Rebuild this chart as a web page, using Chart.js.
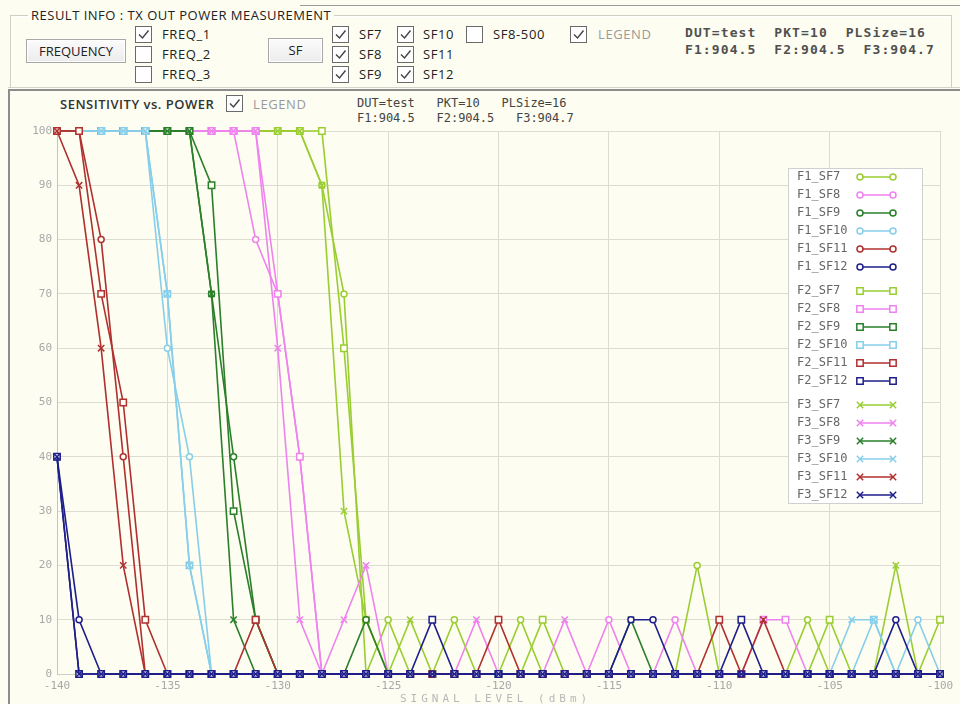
<!DOCTYPE html>
<html>
<head>
<meta charset="utf-8">
<script src="https://cdn.jsdelivr.net/npm/chart.js@4.4.0/dist/chart.umd.min.js"></script>
<style>
  html, body { margin: 0; padding: 0; }
  body { width: 960px; height: 704px; overflow: hidden; position: relative; background: #fdfdf1;
         font-family: "Open Sans", "DejaVu Sans", sans-serif; color: #222; }
  .topline { position: absolute; left: 300px; top: 5px; width: 660px; height: 0; border-top: 1px solid #9a9a9a; }
  .grp { position: absolute; left: 10px; top: 15px; width: 940px; height: 71px; border: 1px solid #cfcfc6; box-shadow: inset 1px 1px 0 #fff; }
  .grp-title { position: absolute; left: 28px; top: 6px; padding: 0 3px; background: #fdfdf1; font-size: 13px; line-height: 18px; color: #222; letter-spacing: 0.5px; }
  .btn { position: absolute; box-sizing: border-box; border: 1px solid #a8a8a8; background: linear-gradient(#fbfbfb, #ececec);
         font-size: 13px; text-align: center; color: #222; box-shadow: inset 0 0 0 1px #fff; }
  .cb { position: absolute; width: 17px; height: 17px; box-sizing: border-box; border: 1px solid #6a6a6a; background: #fff; }
  .cb svg { position: absolute; left: 0; top: 0; }
  .lbl { position: absolute; font-size: 13px; line-height: 16px; color: #222; white-space: pre; letter-spacing: 0.6px; }
  .grey { color: #9a9a9a; }
  .mono { position: absolute; font-family: "DejaVu Sans Mono", monospace; white-space: pre; color: #444; }
  .frame { position: absolute; left: 8px; top: 89px; width: 952px; height: 620px; border-top: 2px solid #8c8c8c; border-left: 2px solid #8c8c8c; }
  .sep { position: absolute; left: 8px; top: 87px; width: 952px; height: 0; border-top: 1px solid #d4d4cc; }
  #chart { position: absolute; left: 0; top: 0; }
  .xtitle { position: absolute; left: 400px; top: 692px; font-family: "DejaVu Sans Mono", monospace; font-size: 11px; letter-spacing: 4px; color: #b8b8b8; white-space: pre; }
</style>
</head>
<body>
<div class="topline"></div>
<div class="grp"></div>
<div class="grp-title">RESULT INFO : TX OUT POWER MEASUREMENT</div>

<div class="btn" style="left:26px;top:39px;width:100px;height:24px;line-height:22px;">FREQUENCY</div>
<div class="cb chk" style="left:135px;top:26px;"></div><div class="lbl" style="left:162px;top:26px;">FREQ_1</div>
<div class="cb" style="left:135px;top:46px;"></div><div class="lbl" style="left:162px;top:46px;">FREQ_2</div>
<div class="cb" style="left:135px;top:66px;"></div><div class="lbl" style="left:162px;top:66px;">FREQ_3</div>

<div class="btn" style="left:268px;top:38px;width:55px;height:25px;line-height:23px;">SF</div>
<div class="cb chk" style="left:332px;top:26px;"></div><div class="lbl" style="left:359px;top:26px;">SF7</div>
<div class="cb chk" style="left:332px;top:46px;"></div><div class="lbl" style="left:359px;top:46px;">SF8</div>
<div class="cb chk" style="left:332px;top:66px;"></div><div class="lbl" style="left:359px;top:66px;">SF9</div>
<div class="cb chk" style="left:397px;top:26px;"></div><div class="lbl" style="left:423px;top:26px;">SF10</div>
<div class="cb chk" style="left:397px;top:46px;"></div><div class="lbl" style="left:423px;top:46px;">SF11</div>
<div class="cb chk" style="left:397px;top:66px;"></div><div class="lbl" style="left:423px;top:66px;">SF12</div>
<div class="cb" style="left:466px;top:26px;"></div><div class="lbl" style="left:493px;top:26px;">SF8-500</div>
<div class="cb chk" style="left:570px;top:26px;"></div><div class="lbl grey" style="left:598px;top:26px;">LEGEND</div>

<div class="mono" style="left:685px;top:25px;font-size:13px;letter-spacing:1.1px;font-weight:bold;color:#505050;">DUT=test  PKT=10  PLSize=16</div>
<div class="mono" style="left:685px;top:42px;font-size:13px;letter-spacing:1.1px;font-weight:bold;color:#505050;">F1:904.5  F2:904.5  F3:904.7</div>

<div class="sep"></div>
<div class="frame"></div>

<div class="lbl" style="left:60px;top:96px;font-size:13px;font-weight:600;color:#333;letter-spacing:0.5px;">SENSITIVITY vs. POWER</div>
<div class="cb chk" style="left:226px;top:95px;"></div><div class="lbl grey" style="left:253px;top:96px;">LEGEND</div>
<div class="mono" style="left:357px;top:96px;font-size:12px;">DUT=test   PKT=10   PLSize=16</div>
<div class="mono" style="left:357px;top:111px;font-size:12px;">F1:904.5   F2:904.5   F3:904.7</div>

<canvas id="chart" width="960" height="730"></canvas>
<div class="xtitle">SIGNAL LEVEL (dBm)</div>

<script>
/* ===== Data: one value per dB, -140 .. -100 ===== */
const XS = [-140,-139,-138,-137,-136,-135,-134,-133,-132,-131,
            -130,-129,-128,-127,-126,-125,-124,-123,-122,-121,
            -120,-119,-118,-117,-116,-115,-114,-113,-112,-111,
            -110,-109,-108,-107,-106,-105,-104,-103,-102,-101,
            -100];
const X_TICKS = [-140,-135,-130,-125,-120,-115,-110,-105,-100];
const Y_TICKS = [0,10,20,30,40,50,60,70,80,90,100];

const F1_SF7  = [100,100,100,100,100,100,100,100,100,100, 100,100,90,70,0,10,0,0,10,0, 0,10,0,0,0,0,0,0,0,20, 0,0,0,0,10,0,0,0,0,0, 0];
const F1_SF8  = [100,100,100,100,100,100,100,100,100,80, 70,40,0,0,0,0,0,0,0,0, 0,0,0,0,0,10,0,0,10,0, 0,0,0,0,0,0,0,0,0,0, 0];
const F1_SF9  = [100,100,100,100,100,100,100,70,40,10, 0,0,0,0,10,0,0,0,0,0, 0,0,0,0,0,0,0,0,0,0, 0,0,0,0,0,0,0,0,0,0, 0];
const F1_SF10 = [100,100,100,100,100,60,40,0,0,0, 0,0,0,0,0,0,0,0,0,0, 0,0,0,0,0,0,0,0,0,0, 0,0,0,0,0,0,0,0,0,10, 0];
const F1_SF11 = [100,100,80,40,0,0,0,0,0,0, 0,0,0,0,0,0,0,0,0,0, 0,0,0,0,0,0,0,0,0,0, 0,0,0,0,0,0,0,0,0,0, 0];
const F1_SF12 = [40,10,0,0,0,0,0,0,0,0, 0,0,0,0,0,0,0,0,0,0, 0,0,0,0,0,0,10,10,0,0, 0,0,0,0,0,0,0,0,10,0, 0];

const F2_SF7  = [100,100,100,100,100,100,100,100,100,100, 100,100,100,60,10,0,0,0,0,0, 0,0,10,0,0,0,0,0,0,0, 0,0,0,0,0,10,0,0,0,0, 10];
const F2_SF8  = [100,100,100,100,100,100,100,100,100,100, 70,40,0,0,0,0,0,0,0,0, 0,0,0,0,0,0,0,0,0,0, 0,0,10,10,0,0,0,0,0,0, 0];
const F2_SF9  = [100,100,100,100,100,100,100,90,30,10, 0,0,0,0,0,0,0,0,0,0, 0,0,0,0,0,0,0,0,0,0, 0,0,0,0,0,0,0,0,0,0, 0];
const F2_SF10 = [100,100,100,100,100,70,20,0,0,0, 0,0,0,0,0,0,0,0,0,0, 0,0,0,0,0,0,0,0,0,0, 0,0,0,0,0,0,0,10,0,0, 0];
const F2_SF11 = [100,100,70,50,10,0,0,0,0,10, 0,0,0,0,0,0,0,0,0,0, 10,0,0,0,0,0,0,0,0,0, 10,0,0,0,0,0,0,0,0,0, 0];
const F2_SF12 = [40,0,0,0,0,0,0,0,0,0, 0,0,0,0,0,0,0,10,0,0, 0,0,0,0,0,0,0,0,0,0, 0,10,0,0,0,0,0,0,0,0, 0];

const F3_SF7  = [100,100,100,100,100,100,100,100,100,100, 100,100,90,30,10,0,10,0,0,0, 0,0,0,0,0,0,0,0,0,0, 0,0,0,0,0,0,0,0,20,0, 0];
const F3_SF8  = [100,100,100,100,100,100,100,100,100,100, 60,10,0,10,20,0,0,0,0,10, 0,0,0,10,0,0,0,0,0,0, 0,0,0,0,0,0,0,0,0,0, 0];
const F3_SF9  = [100,100,100,100,100,100,100,70,10,0, 0,0,0,0,0,0,0,0,0,0, 0,0,0,0,0,0,10,0,0,0, 0,0,0,0,0,0,0,0,0,0, 0];
const F3_SF10 = [100,100,100,100,100,70,20,0,0,0, 0,0,0,0,0,0,0,0,0,0, 0,0,0,0,0,0,0,0,0,0, 0,0,0,0,0,0,10,10,0,0, 0];
const F3_SF11 = [100,90,60,20,0,0,0,0,0,0, 0,0,0,0,0,0,0,0,0,0, 0,0,0,0,0,0,0,0,0,0, 0,0,10,0,0,0,0,0,0,0, 0];
const F3_SF12 = [40,0,0,0,0,0,0,0,0,0, 0,0,0,0,0,0,0,0,0,0, 0,0,0,0,0,0,0,0,0,0, 0,0,0,0,0,0,0,0,0,0, 0];

const SF_NAMES = ['SF7', 'SF8', 'SF9', 'SF10', 'SF11', 'SF12'];
const SF_COLORS = ['#9acd32', '#ee82ee', '#2a7f2a', '#87ceeb', '#b03030', '#1e1e8c'];
const F_NAMES = ['F1', 'F2', 'F3'];
const SERIES = [
  [F1_SF7, F1_SF8, F1_SF9, F1_SF10, F1_SF11, F1_SF12],
  [F2_SF7, F2_SF8, F2_SF9, F2_SF10, F2_SF11, F2_SF12],
  [F3_SF7, F3_SF8, F3_SF9, F3_SF10, F3_SF11, F3_SF12]
];

/* marker per frequency: F1 circle, F2 square, F3 x */
const F_STYLE = [
  { pointStyle: 'circle',   pointRadius: 3 },
  { pointStyle: 'rect',     pointRadius: 4.5 },
  { pointStyle: 'crossRot', pointRadius: 4.5 }
];

const datasets = [];
F_NAMES.forEach((f, fi) => {
  SF_NAMES.forEach((sf, si) => {
    const color = SF_COLORS[si];
    datasets.push({
      label: f + '_' + sf,
      data: XS.map((x, i) => ({ x: x, y: SERIES[fi][si][i] })),
      borderColor: color,
      backgroundColor: color,
      pointBorderColor: color,
      pointBackgroundColor: '#fffff4',
      pointStyle: F_STYLE[fi].pointStyle,
      pointRadius: F_STYLE[fi].pointRadius,
      pointBorderWidth: 1.5,
      borderWidth: 1.6,
      tension: 0,
      clip: false,
      order: -(si * 3 + fi)   // higher SF drawn on top
    });
  });
});

/* ===== Boxed legend with gaps between frequency groups ===== */
const legendBox = {
  id: 'legendBox',
  afterDatasetsDraw(chart) {
    const ctx = chart.ctx;
    ctx.save();
    ctx.fillStyle = '#ffffff';
    ctx.strokeStyle = '#d0d0d0';
    ctx.lineWidth = 1;
    ctx.fillRect(788.5, 168.5, 134, 335);
    ctx.strokeRect(788.5, 168.5, 134, 335);
    ctx.font = '12px "DejaVu Sans Mono"';
    ctx.textBaseline = 'middle';
    chart.data.datasets.forEach((ds, i) => {
      const y = 177 + i * 18 + Math.floor(i / 6) * 6;
      ctx.fillStyle = '#666';
      ctx.fillText(ds.label, 797, y);
      ctx.strokeStyle = ds.borderColor;
      ctx.lineWidth = 1.5;
      ctx.beginPath();
      ctx.moveTo(860, y);
      ctx.lineTo(893, y);
      ctx.stroke();
      [860, 893].forEach(px => {
        ctx.fillStyle = '#ffffff';
        Chart.helpers.drawPoint(ctx, { pointStyle: ds.pointStyle, radius: ds.pointRadius, borderWidth: 1.5, rotation: 0 }, px, y);
      });
    });
    ctx.restore();
  }
};

const tickFont = { family: 'DejaVu Sans Mono', size: 11 };

new Chart(document.getElementById('chart'), {
  type: 'line',
  data: { datasets },
  options: {
    responsive: false,
    animation: false,
    layout: { padding: { left: 0, top: 131, right: 20, bottom: 0 } },
    plugins: { legend: { display: false }, tooltip: { enabled: false } },
    scales: {
      x: {
        type: 'linear', min: -140, max: -100,
        afterFit: s => { s.height = 56; },
        afterBuildTicks: s => { s.ticks = X_TICKS.map(v => ({ value: v })); },
        grid: { color: '#dcdcd2', drawTicks: false },
        border: { display: true, color: '#cfcfc6' },
        ticks: { color: '#a8a8a8', padding: 6, font: tickFont, maxRotation: 0, autoSkip: false }
      },
      y: {
        min: 0, max: 100,
        afterFit: s => { s.width = 57; },
        afterBuildTicks: s => { s.ticks = Y_TICKS.map(v => ({ value: v })); },
        grid: { color: '#dcdcd2', drawTicks: false },
        border: { display: true, color: '#c4c4bc' },
        ticks: { color: '#a8a8a8', padding: 5, font: tickFont }
      }
    }
  },
  plugins: [legendBox]
});

/* ===== check marks ===== */
document.querySelectorAll('.cb.chk').forEach(el => {
  el.innerHTML = '<svg width="15" height="15" viewBox="0 0 15 15"><polyline points="3,7.5 6.5,11 12.5,3.5" fill="none" stroke="#444" stroke-width="1.4"/></svg>';
});
</script>
</body>
</html>
